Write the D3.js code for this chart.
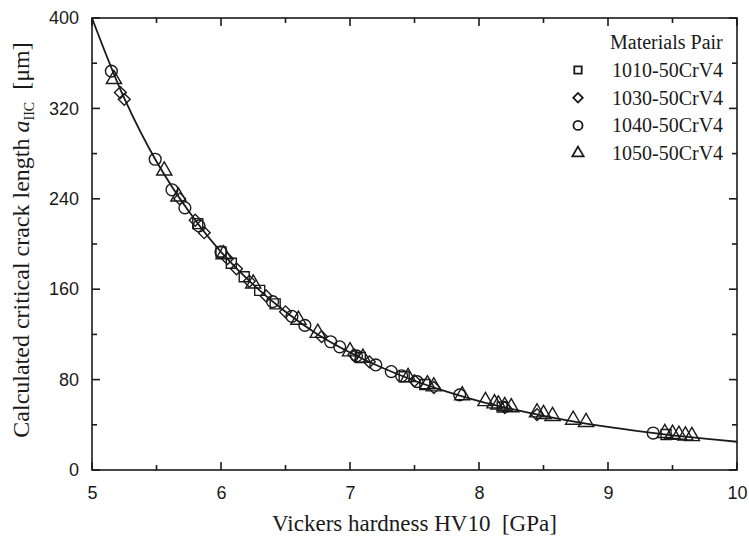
<!DOCTYPE html>
<html>
<head>
<meta charset="utf-8">
<script src="https://cdn.jsdelivr.net/npm/d3@7"></script>
<style>
  html, body { margin: 0; padding: 0; background: #fff; }
  svg { display: block; }
</style>
</head>
<body>
<svg id="chart" width="749" height="547"></svg>
<script>
// fitted curve (hardness GPa, crack length um)
const curveH = [5, 5.25, 5.5, 5.75, 6, 6.25, 6.5, 6.75, 7, 7.25, 7.5, 7.75, 8, 8.25, 8.5, 8.75, 9, 9.25, 9.5, 9.75, 10];
const curveA = [400, 329, 273, 229, 193, 164, 140, 120, 104, 90.5, 79, 69.4, 61, 54, 47.9, 42.6, 38.1, 34.2, 30.7, 27.7, 25];

// measured points per materials pair
const sqH = [5.82, 6.0, 6.08, 6.18, 6.3, 6.42, 7.08, 7.42, 7.58, 8.18, 9.45];
const sqA = [218, 193, 183, 171, 159, 147, 99.5, 82.5, 75.7, 55.8, 31.4];

const diH = [5.22, 5.25, 5.68, 5.8, 5.87, 6.05, 6.12, 6.22, 6.35, 6.5, 6.78, 7.03, 7.15, 7.5, 7.65, 8.2, 8.45];
const diA = [334, 328, 240, 221, 210, 187, 178, 167, 154, 140, 118, 102, 95.7, 79, 73, 55.3, 49];

const ciH = [5.15, 5.49, 5.62, 5.72, 5.83, 6.0, 6.4, 6.55, 6.65, 6.85, 6.92, 7.05, 7.2, 7.32, 7.4, 7.52, 7.85, 9.35];
const ciA = [353, 275, 248, 232, 216, 193, 149, 136, 128, 113.5, 109, 101, 93, 87.1, 83.4, 78.2, 66.5, 32.7];

const trH = [5.17, 5.56, 5.67, 6.02, 6.25, 6.6, 6.75, 7.0, 7.1, 7.45, 7.6, 7.65, 7.87, 8.05, 8.12, 8.15, 8.2, 8.25, 8.45, 8.5, 8.57, 8.73, 8.83, 9.44, 9.5, 9.55, 9.6, 9.65];
const trA = [345, 264, 241, 190, 164, 132, 120.4, 104, 98.4, 81.2, 74.9, 73, 65.2, 60, 58, 57, 55.5, 54.5, 50, 48.5, 46.8, 43.5, 41.5, 31.8, 31, 30.2, 29.6, 29];

const xTicks = [5, 6, 7, 8, 9, 10];
const yTicks = [0, 80, 160, 240, 320, 400];
const legendNames = ["1010-50CrV4", "1030-50CrV4", "1040-50CrV4", "1050-50CrV4"];

const svg = d3.select("#chart");
const M = { left: 92, right: 12, top: 18, bottom: 77 };
const W = 749, H = 547;
const iw = W - M.left - M.right, ih = H - M.top - M.bottom;
const g = svg.append("g").attr("transform", `translate(${M.left},${M.top})`);
const ink = "#1a1a1a";
const serif = "'Liberation Serif', 'Times New Roman', serif";

const x = d3.scaleLinear().domain([5, 10]).range([0, iw]);
const y = d3.scaleLinear().domain([0, 400]).range([ih, 0]);

// frame
g.append("rect").attr("width", iw).attr("height", ih)
  .attr("fill", "none").attr("stroke", ink).attr("stroke-width", 1.6);

// inward ticks on all four sides
const xMinor = d3.range(5.5, 10, 1);
const yMinor = d3.range(40, 400, 80);
function tickLines(vals, len, horiz) {
  vals.forEach(v => {
    if (horiz) {
      g.append("line").attr("x1", x(v)).attr("x2", x(v)).attr("y1", ih).attr("y2", ih - len).attr("stroke", ink).attr("stroke-width", 1.6);
      g.append("line").attr("x1", x(v)).attr("x2", x(v)).attr("y1", 0).attr("y2", len).attr("stroke", ink).attr("stroke-width", 1.6);
    } else {
      g.append("line").attr("y1", y(v)).attr("y2", y(v)).attr("x1", 0).attr("x2", len).attr("stroke", ink).attr("stroke-width", 1.6);
      g.append("line").attr("y1", y(v)).attr("y2", y(v)).attr("x1", iw).attr("x2", iw - len).attr("stroke", ink).attr("stroke-width", 1.6);
    }
  });
}
tickLines(xTicks, 8, true);
tickLines(xMinor, 5, true);
tickLines(yTicks, 8, false);
tickLines(yMinor, 5, false);

// tick labels (axis generator, tick lines hidden)
const xa = g.append("g").attr("transform", `translate(0,${ih})`)
  .call(d3.axisBottom(x).tickValues(xTicks).tickSize(0).tickPadding(16).tickFormat(d3.format("d")));
const ya = g.append("g")
  .call(d3.axisLeft(y).tickValues(yTicks).tickSize(0).tickPadding(13));
[xa, ya].forEach(a => {
  a.select(".domain").remove();
  a.selectAll("text").attr("font-family", "'Liberation Sans', Arial, sans-serif")
    .attr("font-size", 18).attr("fill", ink);
});

// axis titles
svg.append("text")
  .attr("x", M.left + iw / 2).attr("y", 531)
  .attr("text-anchor", "middle")
  .attr("font-family", serif)
  .attr("font-size", 23).attr("fill", ink)
  .attr("xml:space", "preserve")
  .text("Vickers hardness HV10  [GPa]");

const yt = svg.append("text")
  .attr("transform", `translate(29,${M.top + ih / 2 - 4}) rotate(-90)`)
  .attr("text-anchor", "middle")
  .attr("font-family", serif)
  .attr("font-size", 24).attr("fill", ink)
  .attr("xml:space", "preserve");
yt.append("tspan").text("Calculated critical crack length ");
yt.append("tspan").attr("font-style", "italic").text("a");
yt.append("tspan").attr("font-size", 14).attr("dy", 5).text("IIC");
yt.append("tspan").attr("dy", -5).text("  [\u03bcm]");

// fitted curve
const curveData = curveH.map((h, i) => ({ h, a: curveA[i] }));
g.append("path").datum(curveData)
  .attr("fill", "none").attr("stroke", ink).attr("stroke-width", 1.8)
  .attr("d", d3.line().x(d => x(d.h)).y(d => y(d.a)).curve(d3.curveCatmullRom));

// markers (diamond = square turned 45deg)
const shapes = [d3.symbolSquare, d3.symbolSquare, d3.symbolCircle, d3.symbolTriangle];
const rot = [0, 45, 0, 0];
const sizes = [100, 70, 110, 100];
const series = [[sqH, sqA], [diH, diA], [ciH, ciA], [trH, trA]];
series.forEach(([hs, as], k) => {
  const pts = hs.map((h, i) => ({ h, a: as[i] }));
  g.append("g").selectAll("path").data(pts).join("path")
    .attr("transform", d => `translate(${x(d.h)},${y(d.a) + (k === 3 ? -1 : 0)}) rotate(${rot[k]})`)
    .attr("d", d3.symbol().type(shapes[k]).size(sizes[k]))
    .attr("fill", "none").attr("stroke", ink).attr("stroke-width", 1.4);
});

// legend
const lg = svg.append("g").attr("font-family", serif)
  .attr("font-size", 20).attr("fill", ink);
lg.append("text").attr("x", 610).attr("y", 49).text("Materials Pair");
legendNames.forEach((n, i) => {
  const yy = 70 + i * 27.7;
  lg.append("path")
    .attr("transform", `translate(578,${yy}) rotate(${rot[i]})`)
    .attr("d", d3.symbol().type(shapes[i]).size([55, 45, 65, 55][i]))
    .attr("fill", "none").attr("stroke", ink).attr("stroke-width", 1.8);
  lg.append("text").attr("x", 612).attr("y", yy + 7).text(n);
});
</script>
</body>
</html>
